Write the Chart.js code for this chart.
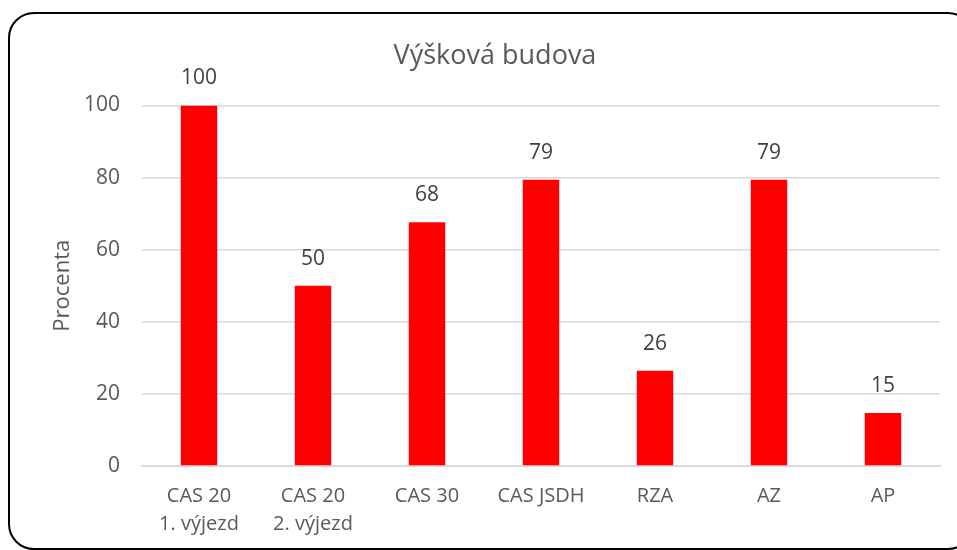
<!DOCTYPE html>
<html>
<head>
<meta charset="utf-8">
<script src="https://cdn.jsdelivr.net/npm/chart.js@4.4.0/dist/chart.umd.min.js"></script>
<style>
  html, body { margin: 0; padding: 0; background: #ffffff; overflow: hidden; }
  #wrap { position: relative; width: 957px; height: 550px; }
  #frame {
    position: absolute; left: 8px; top: 12px; width: 966px; height: 538px;
    border: 2px solid #000; border-radius: 26px; box-sizing: border-box;
  }
  canvas { position: absolute; left: 0; top: 0; }
</style>
</head>
<body>
<div id="wrap">
  <div id="frame"></div>
  <canvas id="vyskovaChart" width="957" height="550"></canvas>
</div>
<script>
// Kategorie a hodnoty (v procentech)
const kategorie = [
    ['CAS 20', '1. výjezd'],
    ['CAS 20', '2. výjezd'],
    'CAS 30',
    'CAS JSDH',
    'RZA',
    'AZ',
    'AP'
];
const procenta = [100, 50, 67.6, 79.4, 26.4, 79.4, 14.7];
const osaY = [0, 20, 40, 60, 80, 100];

const FONT = "'Open Sans', sans-serif";

// Popisky hodnot nad sloupci
const popiskyPlugin = {
    id: 'popisky',
    afterDatasetsDraw(chart) {
        const ctx = chart.ctx;
        const meta = chart.getDatasetMeta(0);
        ctx.save();
        ctx.font = '21px ' + FONT;
        ctx.fillStyle = '#404040';
        ctx.textAlign = 'center';
        ctx.textBaseline = 'middle';
        meta.data.forEach(function (bar, i) {
            ctx.fillText(Math.round(procenta[i]), bar.x, bar.y - 27);
        });
        ctx.restore();
    }
};

new Chart(document.getElementById('vyskovaChart'), {
    type: 'bar',
    data: {
        labels: kategorie,
        datasets: [{
            label: 'Procenta',
            data: procenta,
            backgroundColor: '#ff0000',
            borderWidth: 0,
            categoryPercentage: 1,
            barPercentage: 0.32
        }]
    },
    options: {
        responsive: false,
        animation: false,
        layout: { padding: { left: 50, right: 17, top: 0, bottom: 0 } },
        plugins: {
            legend: { display: false },
            tooltip: { enabled: false },
            title: {
                display: true,
                text: 'Výšková budova',
                color: '#595959',
                font: { family: FONT, size: 27, weight: 'normal' },
                padding: { top: 40, bottom: 33 }
            }
        },
        scales: {
            y: {
                min: 0,
                max: 100,
                afterBuildTicks: function (axis) {
                    axis.ticks = osaY.map(function (v) { return { value: v }; });
                },
                afterFit: function (axis) { axis.width = 92; },
                border: { display: false },
                grid: { color: '#d9d9d9', lineWidth: 1.5, drawTicks: false },
                ticks: {
                    color: '#595959',
                    font: { family: FONT, size: 21 },
                    padding: 22
                },
                title: {
                    display: true,
                    text: 'Procenta',
                    color: '#595959',
                    font: { family: FONT, size: 22 },
                    padding: 0
                }
            },
            x: {
                afterFit: function (axis) { axis.height = 84; },
                border: { display: true, color: '#d9d9d9', width: 2 },
                grid: { display: false },
                ticks: {
                    color: '#595959',
                    font: { family: FONT, size: 20, lineHeight: 1.4 },
                    padding: 8,
                    maxRotation: 0,
                    autoSkip: false
                }
            }
        }
    },
    plugins: [popiskyPlugin]
});
</script>
</body>
</html>
